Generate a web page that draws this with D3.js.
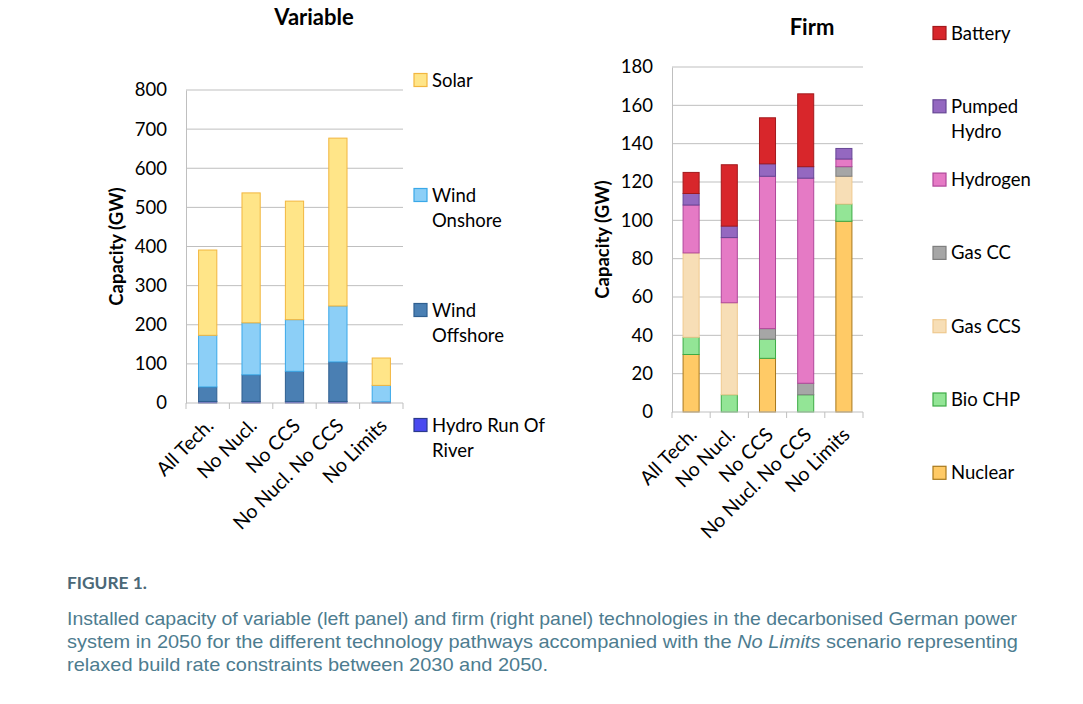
<!DOCTYPE html>
<html>
<head>
<meta charset="utf-8">
<script src="https://cdn.jsdelivr.net/npm/d3@7"></script>
<style>
  body { margin: 0; background: #fff; }
  svg { display: block; }
</style>
</head>
<body>
<div id="chart"></div>
<script>
// scenarios (shared by both panels)
const categories = ['All Tech.', 'No Nucl.', 'No CCS', 'No Nucl. No CCS', 'No Limits'];

// variable capacity, GW (stack bottom -> top)
const hydroRunOfRiver = [4, 4, 4, 4, 3];
const windOffshore = [37, 68, 77, 101, 0];
const windOnshore = [132, 133, 132, 143, 42];
const solar = [218, 332, 303, 429, 70];
const variableTicks = [0, 100, 200, 300, 400, 500, 600, 700, 800];

// firm capacity, GW (stack bottom -> top)
const nuclear = [30, 0, 28, 0, 99.5];
const bioCHP = [9, 9, 10, 9, 9];
const gasCCS = [44, 48, 0, 0, 14.5];
const gasCC = [0, 0, 5.5, 6, 5];
const hydrogen = [25, 34, 79.5, 107, 4];
const pumpedHydro = [6, 6, 6.5, 6, 5.5];
const battery = [11, 32, 24, 38, 0];
const firmTicks = [0, 20, 40, 60, 80, 100, 120, 140, 160, 180];

const variableSeries = [
    { key: 'Hydro Run Of River', lines: ['Hydro Run Of', 'River'], values: hydroRunOfRiver, fill: '#4a4af0', stroke: '#2b3a8c' },
    { key: 'Wind Offshore', lines: ['Wind', 'Offshore'], values: windOffshore, fill: '#4a7fb3', stroke: '#2f5f90' },
    { key: 'Wind Onshore', lines: ['Wind', 'Onshore'], values: windOnshore, fill: '#8ccff7', stroke: '#3aa8e8' },
    { key: 'Solar', lines: ['Solar'], values: solar, fill: '#ffe588', stroke: '#f2b63f' }
];

const firmSeries = [
    { key: 'Nuclear', lines: ['Nuclear'], values: nuclear, fill: '#ffca66', stroke: '#a8781c' },
    { key: 'Bio CHP', lines: ['Bio CHP'], values: bioCHP, fill: '#93e596', stroke: '#3dab45' },
    { key: 'Gas CCS', lines: ['Gas CCS'], values: gasCCS, fill: '#f7deb6', stroke: '#efc98f' },
    { key: 'Gas CC', lines: ['Gas CC'], values: gasCC, fill: '#a6a6a6', stroke: '#7f7f7f' },
    { key: 'Hydrogen', lines: ['Hydrogen'], values: hydrogen, fill: '#e57ac5', stroke: '#b0479a' },
    { key: 'Pumped Hydro', lines: ['Pumped', 'Hydro'], values: pumpedHydro, fill: '#9468c0', stroke: '#674795' },
    { key: 'Battery', lines: ['Battery'], values: battery, fill: '#d8262b', stroke: '#a3191c' }
];

const width = 1083;
const height = 704;

const svg = d3.select('#chart')
    .append('svg')
    .attr('width', width)
    .attr('height', height)
    .attr('font-family', 'Lato, "Open Sans", sans-serif');

svg.append('rect').attr('width', width).attr('height', height).attr('fill', '#fff');

function drawPanel(cfg) {
    const g = svg.append('g');

    const table = categories.map((c, i) => {
        const row = { category: c };
        cfg.series.forEach(s => { row[s.key] = s.values[i]; });
        return row;
    });
    const stacked = d3.stack().keys(cfg.series.map(s => s.key))(table);

    const x = d3.scaleBand().domain(categories).range([cfg.left, cfg.right]).padding(0);
    const y = d3.scaleLinear().domain([0, d3.max(cfg.ticks)]).range([cfg.bottom, cfg.top]);
    const barW = x.bandwidth() * 0.42;

    // gridlines
    g.append('g').selectAll('line')
        .data(cfg.ticks.slice(1))
        .join('line')
        .attr('x1', cfg.left).attr('x2', cfg.right)
        .attr('y1', d => y(d)).attr('y2', d => y(d))
        .attr('stroke', '#bfbfbf').attr('stroke-width', 1);

    // y axis
    const yAxis = g.append('g')
        .attr('transform', `translate(${cfg.left},0)`)
        .call(d3.axisLeft(y).tickValues(cfg.ticks).tickSize(0).tickPadding(19));
    yAxis.select('.domain').attr('stroke', '#bfbfbf');
    yAxis.selectAll('text').attr('font-size', 18.5).attr('font-family', 'Lato, sans-serif').attr('fill', '#000');

    // bars
    const layer = g.append('g').selectAll('g')
        .data(stacked)
        .join('g')
        .attr('fill', (d, i) => cfg.series[i].fill)
        .attr('stroke', (d, i) => cfg.series[i].stroke);

    layer.selectAll('rect')
        .data(d => d.filter(p => p[1] - p[0] > 0))
        .join('rect')
        .attr('x', d => x(d.data.category) + (x.bandwidth() - barW) / 2)
        .attr('width', barW)
        .attr('y', d => y(d[1]))
        .attr('height', d => y(d[0]) - y(d[1]))
        .attr('stroke-width', 1);

    // x axis with ticks between categories
    g.append('line')
        .attr('x1', cfg.left).attr('x2', cfg.right)
        .attr('y1', cfg.bottom).attr('y2', cfg.bottom)
        .attr('stroke', '#bfbfbf');
    const bounds = categories.map(c => x(c)).concat([cfg.right]);
    g.append('g').selectAll('line')
        .data(bounds)
        .join('line')
        .attr('x1', d => d).attr('x2', d => d)
        .attr('y1', cfg.bottom).attr('y2', cfg.bottom + 6)
        .attr('stroke', '#bfbfbf');

    g.append('g').selectAll('text')
        .data(categories)
        .join('text')
        .attr('transform', d => `translate(${x(d) + x.bandwidth() / 2 + 7},${cfg.bottom + 24}) rotate(-45)`)
        .attr('text-anchor', 'end')
        .attr('font-size', 19.5)
        .attr('fill', '#000')
        .text(d => d);

    // axis title
    g.append('text')
        .attr('transform', `translate(${cfg.left - 63},${(cfg.top + cfg.bottom) / 2}) rotate(-90)`)
        .attr('text-anchor', 'middle')
        .attr('font-size', 18.5)
        .attr('font-weight', 'bold')
        .attr('fill', '#000')
        .text('Capacity (GW)');

    // panel title
    g.append('text')
        .attr('x', cfg.titleX).attr('y', cfg.titleY)
        .attr('text-anchor', 'middle')
        .attr('font-size', 22)
        .attr('font-weight', 'bold')
        .attr('fill', '#000')
        .text(cfg.title);

    // legend
    const leg = g.append('g').selectAll('g')
        .data(cfg.legendOrder.map(k => cfg.series.find(s => s.key === k)))
        .join('g')
        .attr('transform', (d, i) => `translate(${cfg.legendX},${cfg.legendY + i * cfg.legendStep})`);
    leg.append('rect')
        .attr('x', 0).attr('y', -6.5)
        .attr('width', 13).attr('height', 13)
        .attr('fill', d => d.fill).attr('stroke', d => d.stroke).attr('stroke-width', 1.2);
    leg.append('text')
        .attr('x', 18).attr('y', 6.5)
        .attr('font-size', 18.5)
        .attr('fill', '#000')
        .selectAll('tspan')
        .data(d => d.lines)
        .join('tspan')
        .attr('x', 18)
        .attr('dy', (d, i) => i === 0 ? 0 : 25)
        .text(d => d);
}

drawPanel({
    series: variableSeries, ticks: variableTicks,
    left: 186, right: 403, top: 90, bottom: 403,
    title: 'Variable', titleX: 314, titleY: 25,
    legendOrder: ['Solar', 'Wind Onshore', 'Wind Offshore', 'Hydro Run Of River'],
    legendX: 414, legendY: 80, legendStep: 115
});

drawPanel({
    series: firmSeries, ticks: firmTicks,
    left: 672, right: 863, top: 67, bottom: 412,
    title: 'Firm', titleX: 812, titleY: 35,
    legendOrder: ['Battery', 'Pumped Hydro', 'Hydrogen', 'Gas CC', 'Gas CCS', 'Bio CHP', 'Nuclear'],
    legendX: 933, legendY: 33, legendStep: 73.3
});

// caption
svg.append('text')
    .attr('x', 67).attr('y', 589)
    .attr('font-family', 'Lato, "Open Sans", sans-serif')
    .attr('font-weight', 'bold')
    .attr('font-size', 17.5)
    .attr('fill', '#4b6877')
    .attr('textLength', 80).attr('lengthAdjust', 'spacingAndGlyphs')
    .text('FIGURE 1.');

const captionLines = [
    { parts: [['Installed capacity of variable (left panel) and firm (right panel) technologies in the decarbonised German power', 'normal']], len: 950 },
    { parts: [['system in 2050 for the different technology pathways accompanied with the ', 'normal'], ['No Limits', 'italic'], [' scenario representing', 'normal']], len: 951 },
    { parts: [['relaxed build rate constraints between 2030 and 2050.', 'normal']], len: 481 }
];
captionLines.forEach((ln, i) => {
    const t = svg.append('text')
        .attr('x', 67).attr('y', 625 + i * 23)
        .attr('font-family', '"Liberation Sans Narrow", "Liberation Sans", Arial, sans-serif')
        .attr('font-size', 18.5)
        .attr('fill', '#4d7c8f')
        .attr('textLength', ln.len).attr('lengthAdjust', 'spacingAndGlyphs');
    ln.parts.forEach(p => {
        t.append('tspan').attr('font-style', p[1]).text(p[0]);
    });
});
</script>
</body>
</html>
